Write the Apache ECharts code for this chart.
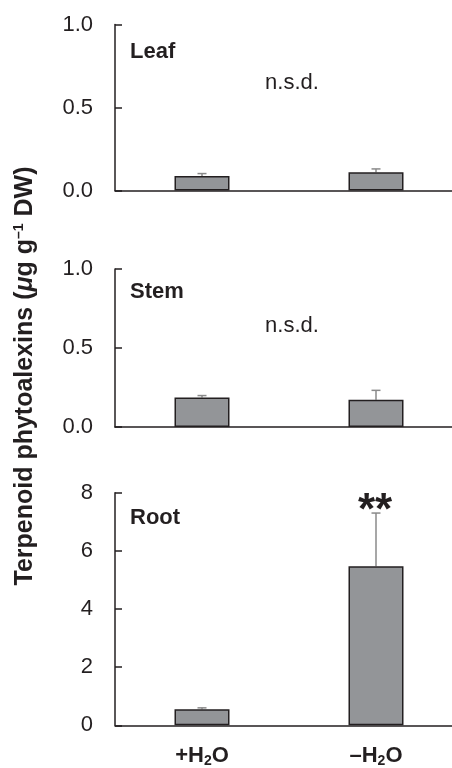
<!DOCTYPE html>
<html>
<head>
<meta charset="utf-8">
<script src="https://cdn.jsdelivr.net/npm/echarts@6/dist/echarts.min.js"></script>
<style>html,body{margin:0;padding:0;background:#fff}#c{width:452px;height:768px}</style>
</head>
<body>
<div id="c"></div>
<script>
const categories = ['+H2O', '-H2O'];
const leafMean = [0.087, 0.11];
const leafUpper = [0.102, 0.13];
const stemMean = [0.186, 0.173];
const stemUpper = [0.199, 0.232];
const rootMean = [0.55, 5.47];
const rootUpper = [0.60, 7.30];
const leafTicks = [0, 0.5, 1.0];
const stemTicks = [0, 0.5, 1.0];
const rootTicks = [0, 2, 4, 6, 8];

const FONT = '"Liberation Sans", Arial, sans-serif';
const AX = '#231f20';
const chart = echarts.init(document.getElementById('c'));

const grids = [
  {left: 115, width: 348, top: 24.5, height: 166, outerBoundsMode: 'none'},
  {left: 115, width: 348, top: 269, height: 158, outerBoundsMode: 'none'},
  {left: 115, width: 348, top: 492.7, height: 232.6, outerBoundsMode: 'none'}
];
const ticksets = [leafTicks, stemTicks, rootTicks];
const means = [leafMean, stemMean, rootMean];
const uppers = [leafUpper, stemUpper, rootUpper];

const xAxes = grids.map((g, i) => ({
  type: 'category', gridIndex: i, data: categories,
  axisLine: {show: true, lineStyle: {color: AX, width: 1.5}},
  axisTick: {show: false},
  axisLabel: i === 2 ? {
    show: true, margin: 19,
    formatter: v => (v[0] === '+' ? '{b|+H}' : '{b|\u2013H}') + '{s|2}{b|O}',
    rich: {
      b: {fontFamily: FONT, fontWeight: 'bold', fontSize: 22, color: '#231f20'},
      s: {fontFamily: FONT, fontWeight: 'bold', fontSize: 14, color: '#231f20', padding: [10, 0, 0, 0]}
    }
  } : {show: false}
}));
const yAxes = grids.map((g, i) => {
  const t = ticksets[i];
  const step = t[1] - t[0];
  return {
    type: 'value', gridIndex: i, min: t[0], max: t[t.length - 1], interval: step,
    splitLine: {show: false},
    axisLine: {show: true, lineStyle: {color: AX, width: 1.5}},
    axisTick: {show: true, inside: true, length: 7, lineStyle: {color: AX, width: 1.5}},
    axisLabel: {
      fontFamily: FONT, fontSize: 22, color: '#231f20', margin: 22,
      formatter: v => i === 2 ? String(v) : v.toFixed(1)
    }
  };
});

const series = [];
grids.forEach((g, i) => {
  series.push({
    type: 'bar', xAxisIndex: i, yAxisIndex: i, data: means[i], barWidth: 55,
    itemStyle: {color: '#939598', borderColor: AX, borderWidth: 1.5},
    z: 3
  });
  series.push({
    type: 'custom', xAxisIndex: i, yAxisIndex: i,
    data: means[i].map((m, k) => [k, m, uppers[i][k]]),
    renderItem: (params, api) => {
      const base = api.coord([api.value(0), api.value(1)]);
      const top = api.coord([api.value(0), api.value(2)]);
      return {
        type: 'group', children: [
          {type: 'line', shape: {x1: base[0], y1: base[1], x2: top[0], y2: top[1]}, style: {stroke: '#8a8a8a', lineWidth: 1.5}},
          {type: 'line', shape: {x1: top[0] - 4.5, y1: top[1], x2: top[0] + 4.5, y2: top[1]}, style: {stroke: '#8a8a8a', lineWidth: 1.5}}
        ]
      };
    },
    z: 2
  });
});

const lab = (x, y, text) => ({type: 'text', x, y, style: {text, fontFamily: FONT, fontSize: 22, fontWeight: 'bold', fill: '#231f20', verticalAlign: 'middle'}});
const nsd = (x, y) => ({type: 'text', x, y, style: {text: 'n.s.d.', fontFamily: FONT, fontSize: 22, fill: '#231f20', align: 'center', verticalAlign: 'middle'}});

chart.setOption({
  animation: false,
  grid: grids,
  xAxis: xAxes,
  yAxis: yAxes,
  series,
  graphic: [
    lab(130, 52, 'Leaf'),
    lab(130, 292, 'Stem'),
    lab(130, 518, 'Root'),
    nsd(292, 83),
    nsd(292, 326),
    {type: 'text', x: 375, y: 512, style: {text: '**', fontFamily: FONT, fontSize: 44, fontWeight: 'bold', fill: '#231f20', align: 'center', verticalAlign: 'middle'}},
    {type: 'text', x: 25, y: 376, rotation: Math.PI / 2,
      style: {
        text: '{b|Terpenoid phytoalexins (}{i|\u03bc}{b|g g}{sup|\u20131}{b| DW)}',
        align: 'center', verticalAlign: 'middle',
        rich: {
          b: {fontFamily: FONT, fontSize: 25, fontWeight: 'bold', fill: '#231f20'},
          i: {fontFamily: FONT, fontSize: 25, fontWeight: 'bold', fontStyle: 'italic', fill: '#231f20'},
          sup: {fontFamily: FONT, fontSize: 14, fontWeight: 'bold', fill: '#231f20', padding: [0, 0, 12, 0]}
        }
      }
    }
  ]
});
</script>
</body>
</html>
